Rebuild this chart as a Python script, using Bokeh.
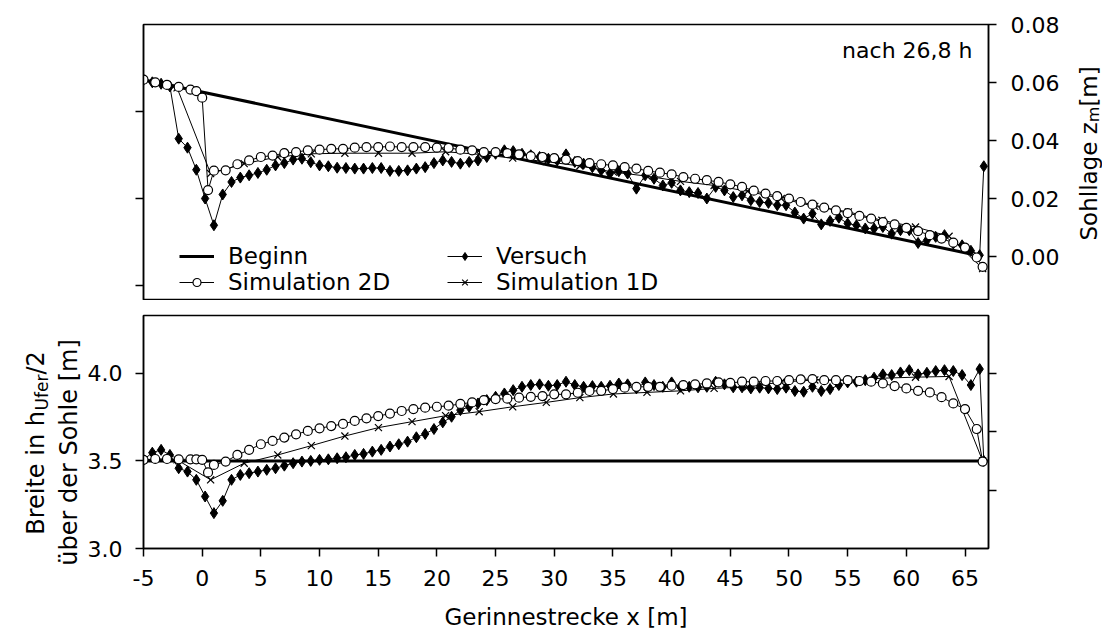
import numpy as np
from bokeh.plotting import figure
from bokeh.models import Range1d, LinearAxis, FixedTicker, Legend, LegendItem, Label
from bokeh.layouts import column, row
from bokeh.embed import file_html
from bokeh.resources import INLINE

FONT = "DejaVu Sans"

# ---------------- data ----------------
beginn_x_top = [-5.0, 65.5]
beginn_z_top = [0.0610, 0.0010]
beginn_x_bot = [-5.0, 67.0]
beginn_b_bot = [3.5, 3.5]

versuch_x = [-5, -4.25, -3.5, -2.75, -2, -1.25, -0.5, 0.25, 1, 1.75,
             2.5, 3.25, 4, 4.75, 5.5, 6.25, 7, 7.75, 8.5, 9.25,
             10, 10.75, 11.5, 12.25, 13, 13.75, 14.5, 15.25, 16, 16.75,
             17.5, 18.25, 19, 19.75, 20.5, 21.25, 22, 22.75, 23.5, 24.25,
             25, 25.75, 26.5, 27.25, 28, 28.75, 29.5, 30.25, 31, 31.75,
             32.5, 33.25, 34, 34.75, 35.5, 36.25, 37, 37.75, 38.5, 39.25,
             40, 40.75, 41.5, 42.25, 43, 43.75, 44.5, 45.25, 46, 46.75,
             47.5, 48.25, 49, 49.75, 50.5, 51.25, 52, 52.75, 53.5, 54.25,
             55, 55.75, 56.5, 57.25, 58, 58.75, 59.5, 60.25, 61, 61.75,
             62.5, 63.25, 64, 64.75, 65.5, 66.25, 66.6]
versuch_z = [0.0610, 0.0601, 0.0596, 0.0587, 0.0407, 0.0376, 0.0300, 0.0201, 0.0109, 0.0215,
             0.0258, 0.0273, 0.0281, 0.0289, 0.0300, 0.0315, 0.0323, 0.0335, 0.0338, 0.0326,
             0.0315, 0.0312, 0.0307, 0.0306, 0.0304, 0.0304, 0.0306, 0.0306, 0.0296, 0.0296,
             0.0298, 0.0304, 0.0309, 0.0323, 0.0332, 0.0327, 0.0321, 0.0327, 0.0332, 0.0344,
             0.0355, 0.0367, 0.0364, 0.0355, 0.0350, 0.0344, 0.0338, 0.0332, 0.0353, 0.0327,
             0.0321, 0.0309, 0.0298, 0.0287, 0.0295, 0.0287, 0.0235, 0.0281, 0.0269, 0.0246,
             0.0255, 0.0229, 0.0223, 0.0220, 0.0201, 0.0241, 0.0229, 0.0206, 0.0212, 0.0195,
             0.0189, 0.0186, 0.0178, 0.0178, 0.0153, 0.0132, 0.0149, 0.0112, 0.0124, 0.0135,
             0.0115, 0.0109, 0.0098, 0.0098, 0.0103, 0.0080, 0.0092, 0.0092, 0.0048, 0.0057,
             0.0069, 0.0075, 0.0046, 0.0040, 0.0021, 0.0006, 0.0312]
versuch_b = [3.506, 3.547, 3.563, 3.534, 3.458, 3.439, 3.392, 3.297, 3.202, 3.272,
             3.392, 3.420, 3.430, 3.439, 3.449, 3.458, 3.473, 3.487, 3.496, 3.500,
             3.506, 3.509, 3.515, 3.521, 3.534, 3.540, 3.553, 3.563, 3.582, 3.595,
             3.610, 3.635, 3.654, 3.682, 3.720, 3.752, 3.790, 3.809, 3.828, 3.847,
             3.866, 3.885, 3.904, 3.923, 3.933, 3.937, 3.929, 3.933, 3.952, 3.933,
             3.923, 3.927, 3.923, 3.929, 3.942, 3.937, 3.914, 3.948, 3.933, 3.923,
             3.948, 3.923, 3.923, 3.920, 3.923, 3.952, 3.937, 3.920, 3.920, 3.914,
             3.918, 3.914, 3.910, 3.918, 3.899, 3.895, 3.923, 3.899, 3.910, 3.933,
             3.948, 3.952, 3.961, 3.975, 3.994, 3.990, 4.005, 4.018, 3.994, 4.003,
             4.013, 4.018, 4.013, 3.990, 3.933, 4.024, 3.500]

sim2d_x = [-5, -4, -3, -2, -1, -0.5, 0, 0.5,
           1, 2, 3, 4, 5, 6, 7, 8, 9, 10,
           11, 12, 13, 14, 15, 16, 17, 18, 19, 20,
           21, 22, 23, 24, 25, 26, 27, 28, 29, 30,
           31, 32, 33, 34, 35, 36, 37, 38, 39, 40,
           41, 42, 43, 44, 45, 46, 47, 48, 49, 50,
           51, 52, 53, 54, 55, 56, 57, 58, 59, 60,
           61, 62, 63, 64, 65, 66, 66.5]
sim2d_z = [0.0610, 0.0601, 0.0592, 0.0585, 0.0576, 0.0571, 0.0548, 0.0230,
           0.0297, 0.0298, 0.0319, 0.0332, 0.0344, 0.0349, 0.0357, 0.0361, 0.0367, 0.0369,
           0.0372, 0.0372, 0.0376, 0.0378, 0.0378, 0.0380, 0.0378, 0.0378, 0.0378, 0.0376,
           0.0375, 0.0369, 0.0367, 0.0361, 0.0361, 0.0357, 0.0353, 0.0347, 0.0344, 0.0340,
           0.0335, 0.0330, 0.0323, 0.0319, 0.0315, 0.0309, 0.0304, 0.0296, 0.0290, 0.0284,
           0.0275, 0.0269, 0.0264, 0.0258, 0.0250, 0.0241, 0.0228, 0.0218, 0.0209, 0.0201,
           0.0189, 0.0180, 0.0170, 0.0160, 0.0151, 0.0141, 0.0132, 0.0120, 0.0112, 0.0100,
           0.0089, 0.0075, 0.0063, 0.0049, 0.0032, -0.0002, -0.0034]
sim2d_b = [3.506, 3.511, 3.511, 3.509, 3.509, 3.509, 3.506, 3.434,
           3.477, 3.496, 3.534, 3.563, 3.595, 3.614, 3.633, 3.652, 3.671, 3.686,
           3.699, 3.711, 3.728, 3.743, 3.756, 3.770, 3.785, 3.796, 3.804, 3.809,
           3.815, 3.825, 3.834, 3.847, 3.853, 3.855, 3.861, 3.866, 3.870, 3.880,
           3.880, 3.889, 3.899, 3.900, 3.910, 3.918, 3.923, 3.923, 3.923, 3.929,
           3.933, 3.937, 3.942, 3.948, 3.945, 3.952, 3.952, 3.956, 3.956, 3.961,
           3.965, 3.967, 3.961, 3.961, 3.961, 3.956, 3.952, 3.942, 3.927, 3.914,
           3.900, 3.891, 3.864, 3.828, 3.796, 3.682, 3.496]

sim1d_x = [-5.0, -2.14, 0.72, 3.58, 6.44, 9.30, 12.16, 15.02, 17.88, 20.74,
           23.60, 26.46, 29.32, 32.18, 35.04, 37.90, 40.76, 43.62, 46.48, 49.34,
           52.20, 55.06, 57.92, 60.78, 63.64, 66.50]
sim1d_z = [0.0610, 0.0582, 0.0287, 0.0321, 0.0344, 0.0355, 0.0357, 0.0357, 0.0357, 0.0362,
           0.0353, 0.0340, 0.0328, 0.0313, 0.0292, 0.0278, 0.0260, 0.0246, 0.0226, 0.0201,
           0.0174, 0.0155, 0.0126, 0.0103, 0.0071, -0.0040]
sim1d_b = [3.506, 3.506, 3.392, 3.487, 3.534, 3.587, 3.642, 3.690, 3.724, 3.758,
           3.781, 3.809, 3.834, 3.861, 3.882, 3.891, 3.900, 3.914, 3.923, 3.950,
           3.962, 3.961, 3.972, 3.978, 3.982, 3.500]

x_ticks = [-5, 0, 5, 10, 15, 20, 25, 30, 35, 40, 45, 50, 55, 60, 65]
z_ticks = [0.0, 0.02, 0.04, 0.06, 0.08]
z_tick_labels = ["0.00", "0.02", "0.04", "0.06", "0.08"]
z_left_ticks = [-0.01, 0.02, 0.05]
b_ticks = [3.0, 3.5, 4.0]
b_tick_labels = ["3.0", "3.5", "4.0"]
b_right_ticks = [3.333, 3.667, 4.0]

# ---------------- helpers ----------------
def style_axis(ax, ticks, labels=None, size="22px", standoff=13):
    ax.ticker = FixedTicker(ticks=ticks)
    if labels is None:
        labels = [""] * len(ticks)
    ax.major_label_overrides = {t: l for t, l in zip(ticks, labels)}
    ax.major_tick_in = 0
    ax.major_tick_out = 8
    ax.major_tick_line_width = 1.5
    ax.major_tick_line_color = "black"
    ax.minor_tick_line_color = None
    ax.axis_line_color = "black"
    ax.axis_line_width = 1.5
    ax.major_label_text_font = FONT
    ax.major_label_text_font_size = size
    ax.major_label_text_color = "black"
    ax.major_label_standoff = standoff


def base_fig(width, height, yr, b_left, b_right, b_top, b_bot, xloc, yloc):
    p = figure(width=width, height=height, x_range=Range1d(-5, 67), y_range=yr,
               x_axis_location=xloc, y_axis_location=yloc,
               output_backend="svg", toolbar_location=None,
               min_border_left=b_left, min_border_right=b_right,
               min_border_top=b_top, min_border_bottom=b_bot)
    p.outline_line_color = "black"
    p.outline_line_width = 1.5
    p.xgrid.grid_line_color = None
    p.ygrid.grid_line_color = None
    p.background_fill_color = "white"
    p.border_fill_color = "white"
    return p


def label_fig(width, height):
    q = figure(width=width, height=height, x_range=Range1d(0, 1), y_range=Range1d(0, 1),
               x_axis_location=None, y_axis_location=None, title=None,
               output_backend="svg", toolbar_location=None, min_border=0)
    q.outline_line_color = None
    q.xgrid.grid_line_color = None
    q.ygrid.grid_line_color = None
    q.border_fill_color = "white"
    q.background_fill_color = "white"
    return q


def draw_series(p, bx, by, vx, vy, sx2, sy2, sx1, sy1):
    r_beg = p.line(bx, by, line_color="black", line_width=3)
    r_vl = p.line(vx, vy, line_color="black", line_width=1)
    r_vm = p.scatter(vx, vy, marker="diamond", size=11,
                     fill_color="black", line_color="black")
    r_1l = p.line(sx1, sy1, line_color="black", line_width=1)
    r_1m = p.scatter(sx1, sy1, marker="x", size=10, line_color="black", line_width=1.2)
    r_2l = p.line(sx2, sy2, line_color="black", line_width=1)
    r_2m = p.scatter(sx2, sy2, marker="circle", size=9, fill_color="white",
                     line_color="black", line_width=1.2)
    return r_beg, (r_vl, r_vm), (r_1l, r_1m), (r_2l, r_2m)


def rot_label(p, text, vx, vy, size, align="left"):
    p.add_layout(Label(x=vx, y=vy, x_units="screen", y_units="screen", text=text,
                       angle=np.pi / 2, text_align=align, text_baseline="alphabetic",
                       text_font=FONT, text_font_size=size, text_color="black"))


# ---------------- top panel ----------------
top = base_fig(979, 300, Range1d(-0.015, 0.08), 60, 74, 24, 0, None, "right")
style_axis(top.yaxis[0], z_ticks, z_tick_labels, standoff=14)
left_ax = LinearAxis()
style_axis(left_ax, z_left_ticks)
top.add_layout(left_ax, "left")

rb, rv, r1, r2 = draw_series(top, beginn_x_top, beginn_z_top, versuch_x, versuch_z,
                             sim2d_x, sim2d_z, sim1d_x, sim1d_z)


def add_legend(p, items, loc):
    lg = Legend(items=[LegendItem(label=l, renderers=list(r)) for l, r in items],
                location=loc, padding=0, spacing=0, margin=0,
                glyph_width=35, glyph_height=20, label_standoff=14,
                background_fill_alpha=0, border_line_color=None,
                label_text_font=FONT, label_text_font_size="23px",
                label_text_color="black")
    p.add_layout(lg)


add_legend(top, [("Beginn", [rb]), ("Simulation 2D", r2)], (36, 5))
add_legend(top, [("Versuch", rv), ("Simulation 1D", r1)], (304, 5))

top.add_layout(Label(x=829, y=250, x_units="screen", y_units="screen",
                     text="nach 26,8 h", text_align="right", text_baseline="middle",
                     text_font=FONT, text_font_size="22px", text_color="black"))

# right-side title (own canvas so it is not clipped)
rlab = label_fig(40, 300)
rot_label(rlab, "Sohllage z", 26, 60, "23px")
rot_label(rlab, "m", 31, 178.3, "16px")
rot_label(rlab, " [m]", 26, 193.9, "23px")

# ---------------- bottom panel ----------------
bot = base_fig(1019, 338, Range1d(3.0, 4.33), 60, 114, 15, 90, "below", "left")
style_axis(bot.yaxis[0], b_ticks, b_tick_labels, standoff=13)
style_axis(bot.xaxis[0], x_ticks, [str(t) for t in x_ticks], standoff=13)
bot.xaxis[0].axis_label = "Gerinnestrecke x [m]"
bot.xaxis[0].axis_label_text_font = FONT
bot.xaxis[0].axis_label_text_font_size = "23px"
bot.xaxis[0].axis_label_text_font_style = "normal"
bot.xaxis[0].axis_label_text_color = "black"
bot.xaxis[0].axis_label_standoff = 15
right_ax = LinearAxis()
style_axis(right_ax, b_right_ticks)
bot.add_layout(right_ax, "right")

draw_series(bot, beginn_x_bot, beginn_b_bot, versuch_x, versuch_b,
            sim2d_x, sim2d_b, sim1d_x, sim1d_b)

# left-side title: full-height canvas of its own so it is not clipped
llab = label_fig(83, 638)
rot_label(llab, "Breite in h", 35, 103.7, "24px")
rot_label(llab, "Ufer", 41, 228.0, "17px")
rot_label(llab, "/2", 35, 263.9, "24px")
rot_label(llab, "über der Sohle [m]", 68, 186, "24px", align="center")

right_block = column(row(top, rlab, spacing=0), bot, spacing=0)
layout = row(llab, right_block, spacing=0)
open("out.html", "w").write(file_html(layout, INLINE))
